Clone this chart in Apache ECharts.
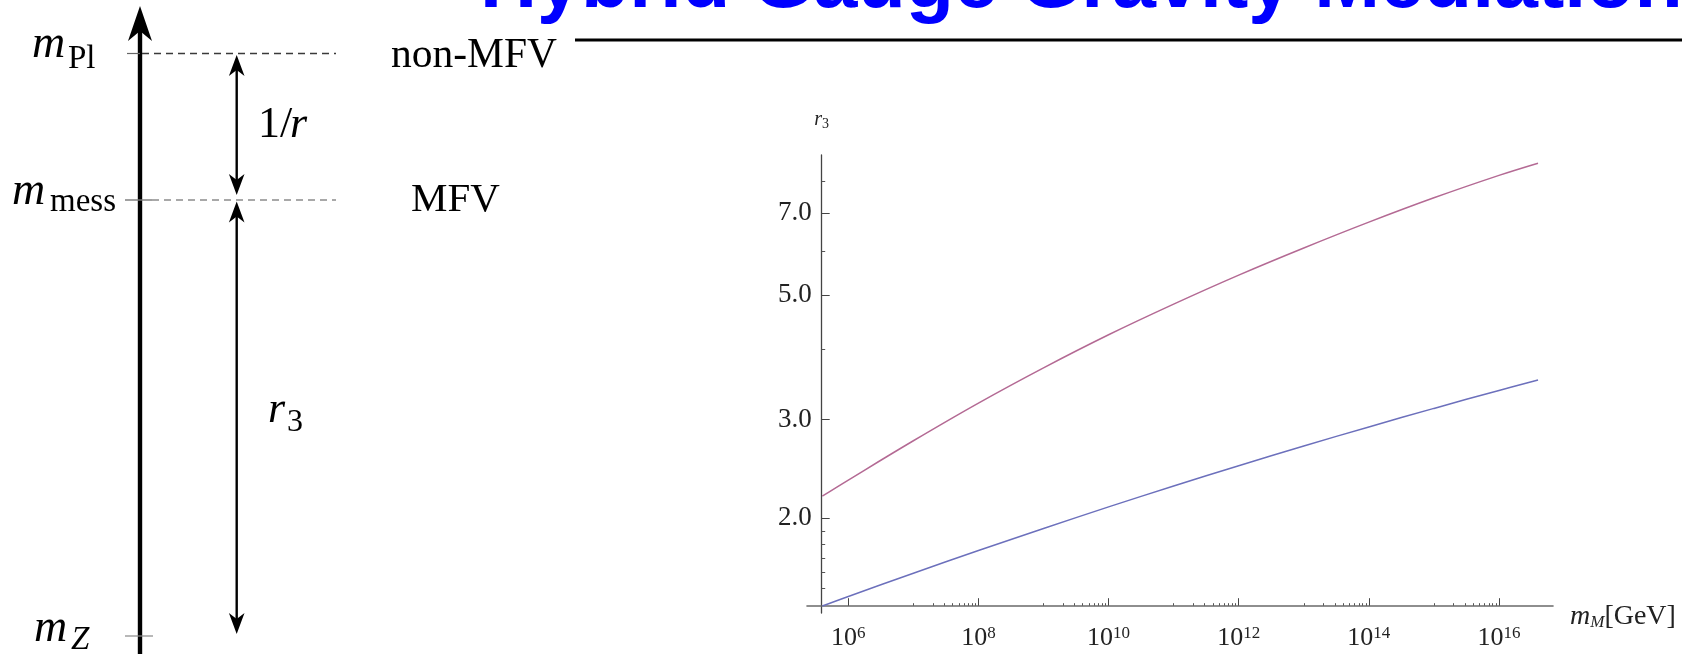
<!DOCTYPE html>
<html>
<head>
<meta charset="utf-8">
<script src="https://cdn.jsdelivr.net/npm/echarts@6/dist/echarts.min.js"></script>
<style>
  html, body { margin: 0; padding: 0; background: #ffffff; }
  #main { width: 1682px; height: 654px; }
</style>
</head>
<body>
<div id="main"></div>
<script>
// Messenger scale m_M, as log10(m_M / GeV)
const massExp = [5.6, 6, 7, 8, 9, 10, 11, 12, 13, 14, 15, 16, 16.6];
// r3 along the two curves
const r3Upper = [2.19, 2.34, 2.75, 3.21, 3.71, 4.25, 4.82, 5.43, 6.07, 6.75, 7.46, 8.18, 8.60];
const r3Lower = [1.395, 1.451, 1.596, 1.752, 1.918, 2.096, 2.283, 2.482, 2.691, 2.911, 3.141, 3.382, 3.530];

// Tick positions
const yMajorTicks = [2.0, 3.0, 5.0, 7.0];
const yMinorTicks = [1.5, 1.6, 1.7, 1.8, 1.9, 4.0, 6.0, 8.0];
const xMajorExp = [6, 8, 10, 12, 14, 16];
const xMinorDecades = [7, 9, 11, 13, 15];
const xMinorMult = [1, 2, 3, 4, 5, 6, 7, 8, 9];

// Axis extents (log10 units for x, plain r3 for y)
const xRange = [5.365, 16.83];
const yRange = [1.3555, 8.894];

const lg = Math.log10;
const xMinorTicks = [];
xMinorDecades.forEach(d => xMinorMult.forEach(k => xMinorTicks.push(d + lg(k))));

const SERIF = '"Liberation Serif", "Times New Roman", serif';
const SANS = '"Liberation Sans", Arial, sans-serif';
const LABEL_COLOR = '#222222';

// ---------- scale diagram on the left ----------
function text(x, baseline, str, size, opts) {
  opts = opts || {};
  const italic = opts.italic ? 'italic ' : '';
  const weight = opts.bold ? 'bold ' : '';
  const fam = opts.family || SERIF;
  const k = opts.family === SANS ? 0.3465 : 0.3375;
  return {
    type: 'text', x: x, y: baseline - k * size, silent: true,
    style: {
      text: str, fill: opts.color || '#000000',
      font: italic + weight + size + 'px ' + fam,
      textAlign: 'left', textVerticalAlign: 'middle', verticalAlign: 'middle'
    }
  };
}
function seg(x1, y1, x2, y2, color, width, dash) {
  return {
    type: 'line', silent: true,
    shape: { x1: x1, y1: y1, x2: x2, y2: y2 },
    style: { stroke: color, lineWidth: width, lineDash: dash || null }
  };
}
function head(x, tipY, dir, len, halfW, notch) {
  return {
    type: 'polygon', silent: true,
    shape: { points: [[x, tipY], [x + halfW, tipY + dir * len], [x, tipY + dir * notch], [x - halfW, tipY + dir * len]] },
    style: { fill: '#000000' }
  };
}

const diagram = [
  // main energy axis
  seg(140, 30, 140, 660, '#000000', 4.4),
  head(140, 6, 1, 35, 12, 25),
  // scale markers
  seg(127, 53.5, 140, 53.5, '#666666', 1.2),
  seg(142, 53.5, 336, 53.5, '#3a3a3a', 1.3, [7, 5]),
  seg(125, 200, 152, 200, '#777777', 1.4),
  seg(152, 200, 336, 200, '#a8a8a8', 2, [7, 5]),
  seg(125, 636, 153, 636, '#888888', 1.2),
  // 1/r interval
  seg(236.7, 68, 236.7, 182, '#000000', 2.4),
  head(236.7, 55, 1, 21, 7.8, 15),
  head(236.7, 195, -1, 21, 7.8, 15),
  // r3 interval
  seg(236.7, 215, 236.7, 622, '#000000', 2.4),
  head(236.7, 201.5, 1, 21, 7.8, 15),
  head(236.7, 634, -1, 21, 7.8, 15),
  // labels
  text(32, 60, 'm', 46, { italic: true }),
  text(68, 70, 'Pl', 33),
  text(12, 207, 'm', 46, { italic: true }),
  text(50, 213, 'mess', 33),
  text(34, 644, 'm', 46, { italic: true }),
  text(71, 651, 'Z', 33, { italic: true }),
  text(258, 140, '1/', 44),
  text(290, 140, 'r', 44, { italic: true }),
  text(268, 425, 'r', 44, { italic: true }),
  text(287, 433, '3', 32),
  text(391, 70, 'non-MFV', 41.5),
  text(411, 214, 'MFV', 41),
  // heading and rule
  text(480, 13, 'Hybrid Gauge Gravity Mediation', 79, { bold: true, family: SANS, color: '#0000ff' }),
  seg(575, 40, 1690, 40, '#000000', 3)
];

// ---------- plot ----------
const chart = echarts.init(document.getElementById('main'), null, { renderer: 'canvas' });

const gridBox = { left: 807, top: 155, width: 746, height: 458 };
const yOffset = -14.7;   // y axis sits inside the grid, x axis overhangs to the left
const xOffset = -7.3;    // x axis sits inside the grid, y axis overhangs below

const expLabel = v => '{b|10}{s|' + Math.round(v) + '}';

const option = {
  animation: false,
  backgroundColor: '#ffffff',
  grid: Object.assign({ containLabel: false, outerBoundsMode: 'none' }, gridBox),
  xAxis: [
    {
      type: 'value', position: 'bottom', min: xRange[0], max: xRange[1], offset: xOffset,
      axisLine: { show: true, onZero: false, lineStyle: { color: '#6a6a6a', width: 1.6 } },
      axisTick: { show: true, inside: true, length: 7.5, customValues: xMajorExp, lineStyle: { color: '#444444', width: 1 } },
      axisLabel: {
        show: true, margin: 19, customValues: xMajorExp, formatter: expLabel,
        rich: {
          b: { fontFamily: SERIF, fontSize: 26, lineHeight: 26, color: LABEL_COLOR },
          s: { fontFamily: SERIF, fontSize: 17, lineHeight: 14, verticalAlign: 'top', color: LABEL_COLOR }
        }
      },
      splitLine: { show: false },
      name: '{m|m}{sub|M}{g|[GeV]}', nameLocation: 'end', nameGap: 17,
      nameTextStyle: {
        padding: [22, 0, 0, 0],
        rich: {
          m: { fontFamily: SERIF, fontStyle: 'italic', fontSize: 28, lineHeight: 28, color: LABEL_COLOR },
          sub: { fontFamily: SERIF, fontStyle: 'italic', fontSize: 17, lineHeight: 16, verticalAlign: 'bottom', color: LABEL_COLOR },
          g: { fontFamily: SERIF, fontSize: 28, lineHeight: 28, color: LABEL_COLOR }
        }
      }
    },
    {
      type: 'value', position: 'bottom', min: xRange[0], max: xRange[1], offset: xOffset,
      axisLine: { show: false, onZero: false },
      axisTick: { show: true, inside: true, length: 2.5, customValues: xMinorTicks, lineStyle: { color: '#555555', width: 1 } },
      axisLabel: { show: false },
      splitLine: { show: false }
    }
  ],
  yAxis: [
    {
      type: 'value', position: 'left', min: lg(yRange[0]), max: lg(yRange[1]), offset: yOffset,
      axisLine: { show: true, onZero: false, lineStyle: { color: '#444444', width: 1.3 } },
      axisTick: { show: true, inside: true, length: 8, customValues: yMajorTicks.map(lg), lineStyle: { color: '#444444', width: 1 } },
      axisLabel: {
        show: true, margin: 10, customValues: yMajorTicks.map(lg),
        formatter: v => Math.pow(10, v).toFixed(1),
        fontFamily: SERIF, fontSize: 27, color: LABEL_COLOR
      },
      splitLine: { show: false },
      name: '{r|r}{s|3}', nameLocation: 'end', nameGap: 24,
      nameTextStyle: {
        rich: {
          r: { fontFamily: SERIF, fontStyle: 'italic', fontSize: 20, lineHeight: 22, color: LABEL_COLOR },
          s: { fontFamily: SERIF, fontSize: 14, lineHeight: 14, verticalAlign: 'bottom', color: LABEL_COLOR }
        }
      }
    },
    {
      type: 'value', position: 'left', min: lg(yRange[0]), max: lg(yRange[1]), offset: yOffset,
      axisLine: { show: false, onZero: false },
      axisTick: { show: true, inside: true, length: 3.5, customValues: yMinorTicks.map(lg), lineStyle: { color: '#555555', width: 1 } },
      axisLabel: { show: false },
      splitLine: { show: false }
    }
  ],
  series: [
    {
      type: 'line', name: 'r3 upper', xAxisIndex: 0, yAxisIndex: 0,
      data: massExp.map((e, i) => [e, lg(r3Upper[i])]),
      symbol: 'none', smooth: 0.4, silent: true,
      lineStyle: { color: '#b46a94', width: 1.5 }
    },
    {
      type: 'line', name: 'r3 lower', xAxisIndex: 0, yAxisIndex: 0,
      data: massExp.map((e, i) => [e, lg(r3Lower[i])]),
      symbol: 'none', smooth: 0.4, silent: true,
      lineStyle: { color: '#6c70bc', width: 1.5 }
    }
  ],
  graphic: diagram
};

chart.setOption(option);
</script>
</body>
</html>
